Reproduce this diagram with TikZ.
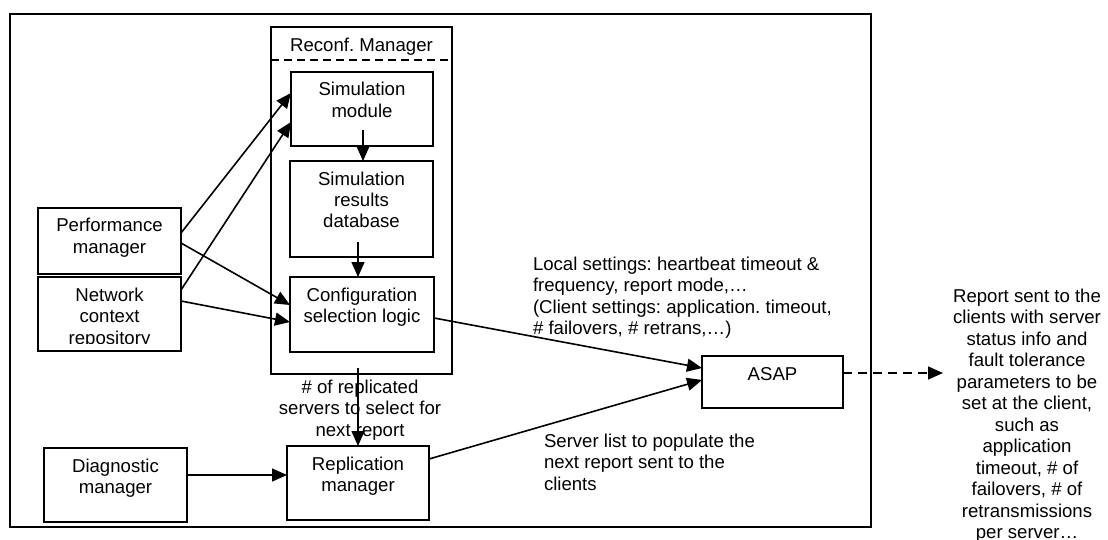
\documentclass[tikz,border=0pt]{standalone}
\usepackage{fontspec}
\setmainfont{Liberation Sans}
\usetikzlibrary{arrows.meta}
% strut that fixes the height of the first text line above its baseline
\newcommand\topstrut{\rule{0pt}{15pt}}
\frenchspacing
\begin{document}
\begin{tikzpicture}[x=1pt,y=-1pt,
  every node/.style={inner sep=0pt, outer sep=0pt},
  box/.style={draw, line width=1.7pt, rectangle},
  txt/.style={font=\fontsize{18.6}{21.5}\selectfont, align=center, anchor=north},
  ltxt/.style={font=\fontsize{18.6}{21.5}\selectfont, align=left, anchor=north west},
  tip/.style={-{Triangle[length=15pt,width=13pt]}},
  arr/.style={line width=1.6pt, tip},
  dashline/.style={line width=1.6pt, dash pattern=on 9pt off 6pt},
]
\useasboundingbox (0,0) rectangle (1108,540);
\clip (0,0) rectangle (1108,540);

% outer frame
\node[box, line width=1.9pt, minimum width=861pt, minimum height=513pt] (frame) at (440.5,270.5) {};

% reconfiguration manager container
\node[box, minimum width=181pt, minimum height=347pt] (reconf) at (361.5,200.5) {};
\draw[line width=1.6pt, dash pattern=on 8pt off 5pt]
  ([yshift=-33pt]reconf.north west) -- ([yshift=-33pt]reconf.north east);
\node[txt] (reconfT) at (361.5,36.5) {\topstrut Reconf. Manager};

% boxes
\node[box, minimum width=142pt, minimum height=74pt] (sim)  at (362,109)   {};
\node[box, minimum width=143pt, minimum height=96pt] (res)  at (361.5,209) {};
\node[box, minimum width=144pt, minimum height=75pt] (conf) at (362,314.5) {};
\node[box, minimum width=143pt, minimum height=66pt] (perf) at (109.5,241) {};
\node[box, minimum width=143pt, minimum height=74pt] (net)  at (109.5,314) {};
\node[box, minimum width=143pt, minimum height=74pt] (diag) at (115.5,485) {};
\node[box, minimum width=142pt, minimum height=74pt] (repl) at (358,483)   {};
\node[box, minimum width=141pt, minimum height=52pt] (asap) at (772.5,382) {};

% box texts (first baseline 24 below the top edge)
\node[txt] (simT)  at (362,81)    {\topstrut Simulation\\module};
\node[txt] (resT)  at (361.5,170) {\topstrut Simulation\\results\\database};
\node[txt] (confT) at (362,286)   {\topstrut Configuration\\selection logic};
\node[txt] (perfT) at (109.5,217) {\topstrut Performance\\manager};
\begin{scope}
  \clip (38,277) rectangle (181,343);
  \node[txt] (netT) at (109.5,286) {\topstrut Network\\context\\repository};
\end{scope}
\node[txt] (diagT) at (115.5,457) {\topstrut Diagnostic\\manager};
\node[txt] (replT) at (358,455)   {\topstrut Replication\\manager};
\node[txt] (asapT) at (772.5,365) {\topstrut ASAP};

% free-standing labels
\node[txt] (countT) at (360,378)
  {\topstrut \# of replicated\\servers to select for\\next report};
\node[ltxt] (localT) at (533,255)
  {\topstrut Local settings: heartbeat timeout \&\\frequency, report mode,…\\(Client settings: application. timeout,\\\# failovers, \# retrans,…)};
\node[ltxt] (listT) at (544,432)
  {\topstrut Server list to populate the\\next report sent to the\\clients};
\node[txt] (reportT) at (1027,287)
  {\topstrut Report sent to the\\clients with server\\status info and\\fault tolerance\\parameters to be\\set at the client,\\such as\\application\\timeout, \# of\\failovers, \# of\\retransmissions\\per server…};

% connectors
\draw[arr] ([yshift=8pt]perf.east)  -- ([yshift=16pt]sim.west);
\draw[arr] ([yshift=24pt]net.east)  -- ([yshift=-13pt]sim.west);
\draw[arr] ([yshift=-2pt]perf.east) -- ([yshift=9.5pt]conf.west);
\draw[arr] ([yshift=13pt]net.east)  -- ([yshift=-7.5pt]conf.west);
\draw[arr] ([xshift=1pt,yshift=16pt]sim.south) -- ([xshift=1.5pt]res.north);
\draw[arr] ([xshift=-3.5pt,yshift=15pt]res.south) -- ([xshift=-4pt]conf.north);
\draw[arr] ([xshift=-4pt,yshift=-16pt]conf.south) -- (repl.north);
\draw[arr] ([yshift=-3.5pt]conf.east) -- ([yshift=14pt]asap.west);
\draw[arr] ([yshift=24pt]repl.east)   -- ([yshift=2pt]asap.west);
\draw[arr] ([yshift=10pt]diag.east)   -- ([yshift=8pt]repl.west);

\coordinate (out) at (943,373);
\draw[dashline] ([yshift=9pt]asap.east) -- ([xshift=-13pt]out);
\draw[line width=1.6pt, tip] ([xshift=-14pt]out) -- (out);
\end{tikzpicture}
\end{document}
